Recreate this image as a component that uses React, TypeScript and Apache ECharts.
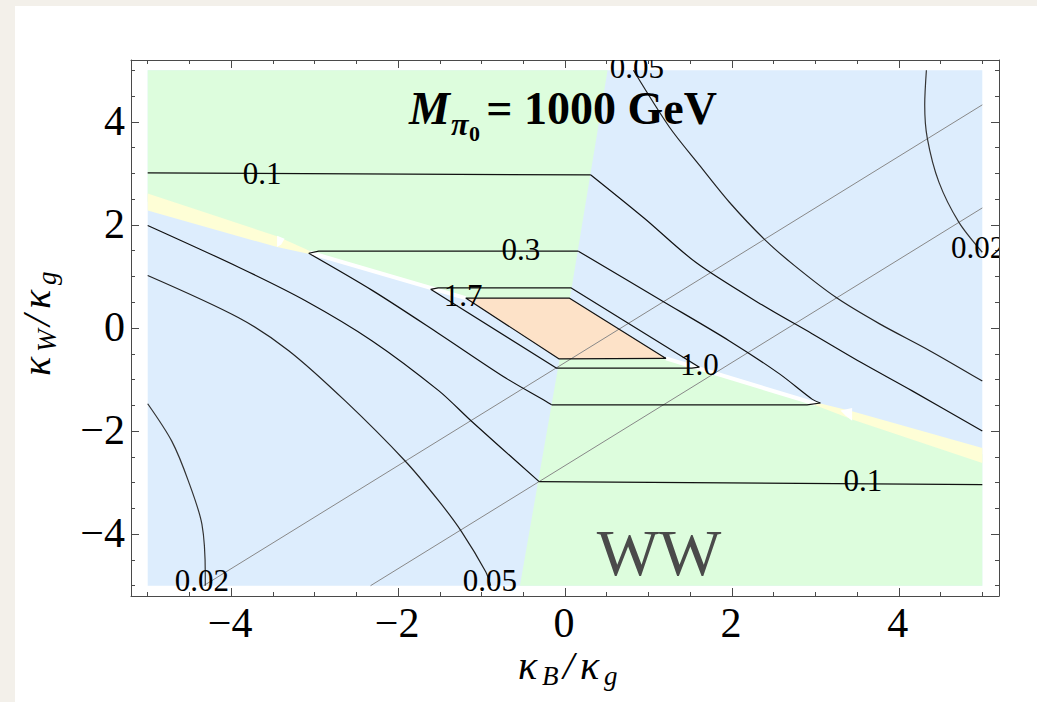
import React, { useEffect, useRef } from "react";
import * as echarts from "echarts";

// ---------- axes ----------
const AXIS_MIN = -5.2;
const AXIS_MAX = 5.2;
const MAJOR_TICKS = [-4, -2, 0, 2, 4];
const MINOR_TICKS = [-5, -4.5, -4, -3.5, -3, -2.5, -2, -1.5, -1, -0.5, 0, 0.5, 1, 1.5, 2, 2.5, 3, 3.5, 4, 4.5, 5];
const TICK_LABELS = ["\u22124", "\u22122", "0", "2", "4"];

// ---------- filled regions (data coords: kB/kg, kW/kg) ----------
const plotRect = [[-5, -5], [5, -5], [5, 5], [-5, 5]];
const greenUpper = [[-5, 5], [0.51, 5], [0, 0], [-5, 2.45]];
const greenLower = [[0, 0], [5, -2.45], [5, -5], [-0.54, -5]];
const yellowLeft = [[-5, 2.61], [-3.45, 1.78], [-3.05, 1.49], [-3.05, 1.43], [-3.45, 1.57], [-5, 2.28]];
const yellowRight = [[3.0, -1.44], [3.45, -1.62], [5, -2.33], [5, -2.62], [3.45, -1.78], [3.0, -1.5]];
const notchLeft = [[-3.45, 1.79], [-3.36, 1.73], [-3.4, 1.62], [-3.45, 1.57]];
const notchRight = [[3.3, -1.6], [3.44, -1.55], [3.44, -1.8], [3.36, -1.7]];
const peachCell = [[-1.19, 0.58], [0.05, 0.58], [1.21, -0.59], [-0.07, -0.6]];

// thin white seam along the diagonal
const seamLeft = [[-3.05, 1.46], [-1.19, 0.58]];
const seamRight = [[1.21, -0.59], [3.0, -1.47]];

// ---------- contour lines ----------
const c01UpperFlat = [[-5, 3.01], [0.31, 2.97]];
const c01UpperBranch = [[0.31, 2.97], [0.95, 2.13], [1.57, 1.27], [2.36, 0.45], [2.96, -0.11], [3.56, -0.68], [4.16, -1.22], [5, -2.0]];
const c01LowerBranch = [[-5, 1.99], [-3.91, 1.18], [-3.11, 0.53], [-2.31, -0.25], [-1.51, -1.22], [-1.12, -1.81], [-0.31, -2.98]];
const c01LowerFlat = [[-0.31, -2.98], [5, -3.04]];
const c005Upper = [[0.82, 5], [1.25, 3.9], [1.61, 3.16], [1.97, 2.44], [2.39, 1.72], [2.75, 1.21], [3.25, 0.59], [3.77, 0.08], [4.37, -0.44], [5, -1.03]];
const c005Lower = [[-5, 1.02], [-3.91, 0.2], [-3.31, -0.44], [-2.63, -1.42], [-1.91, -2.59], [-1.51, -3.36], [-1.24, -3.95], [-0.95, -4.73], [-0.89, -5]];
const c002Upper = [[4.33, 5], [4.31, 4.33], [4.34, 3.69], [4.48, 2.83], [4.72, 2.05], [5, 1.47]];
const c002Lower = [[-5, -1.47], [-4.71, -2.2], [-4.51, -2.98], [-4.35, -3.81], [-4.31, -4.79], [-4.31, -5]];
const c03Top = [[-3.07, 1.45], [-2.95, 1.49], [0.16, 1.49]];
const c03Right = [[0.16, 1.49], [1.16, 0.53], [1.97, -0.25], [2.57, -0.89], [2.96, -1.38], [3.06, -1.455]];
const c03Bottom = [[3.06, -1.455], [2.9, -1.49], [-0.16, -1.49]];
const c03Left = [[-0.16, -1.49], [-0.23, -1.42], [-0.71, -0.97], [-1.51, -0.11], [-2.31, 0.73], [-3.07, 1.45]];
const c10 = [[-1.61, 0.75], [-1.52, 0.78], [0.07, 0.78], [1.61, -0.76], [1.52, -0.78], [-0.1, -0.78], [-1.61, 0.75]];
const c17 = [[-1.19, 0.58], [0.05, 0.58], [1.21, -0.59], [-0.07, -0.6], [-1.19, 0.58]];

// reference lines
const grayA = [[-4.33, -5], [5, 4.33]];
const grayB = [[-2.33, -5], [5, 2.33]];

// contour labels
const labelTexts = ["0.1", "0.3", "1.7", "1.0", "0.1", "0.05", "0.02", "0.02", "0.05"];
const labelPos = [[-3.63, 2.99], [-0.53, 1.52], [-1.22, 0.63], [1.61, -0.71], [3.57, -2.95], [0.86, 5.06], [4.95, 1.56], [-4.35, -4.89], [-0.9, -4.89]];

// ---------- styles ----------
const SERIF = "Liberation Serif";
const FRAME = "#4a4a4a";
const BLUE = "#ddedfd";
const GREEN = "#ddfddd";
const YELLOW = "#fefed6";
const PEACH = "#fde2c8";
const WHITE = "#ffffff";

const regionPolys = [plotRect, greenUpper, greenLower, yellowLeft, yellowRight, notchLeft, notchRight, peachCell];
const regionColors = [BLUE, GREEN, GREEN, YELLOW, YELLOW, WHITE, WHITE, PEACH];

function axisDef(position: string, ticks: number[], len: number, line: boolean) {
  return {
    type: "value",
    position,
    min: AXIS_MIN,
    max: AXIS_MAX,
    axisLine: { show: line, onZero: false, lineStyle: { color: FRAME, width: 1 } },
    axisTick: { show: true, inside: true, length: len, customValues: ticks, lineStyle: { color: FRAME, width: 1 } },
    axisLabel: { show: false },
    splitLine: { show: false },
  };
}

function lineSeries(data: number[][], color: string, width: number, smooth: boolean | number, z: number) {
  return {
    type: "line",
    data,
    symbol: "none",
    smooth,
    silent: true,
    clip: true,
    z,
    lineStyle: { color, width },
    animation: false,
  };
}

function txt(x: number, y: number, text: string, font: string, fill = "#000", align = "left") {
  return {
    type: "text",
    x,
    y,
    z: 20,
    silent: true,
    style: { text, font, fill, align, verticalAlign: "middle", textAlign: align, textVerticalAlign: "middle" },
  };
}

function textEl(x: number, y: number, text: string, font: string, align: string) {
  return {
    type: "text",
    x,
    y,
    style: { text, font, fill: "#000", align, verticalAlign: "middle", textAlign: align, textVerticalAlign: "middle" },
  };
}

function buildOption() {
  const black = "#111111";
  const tickFont = `42px ${SERIF}`;
  const series: any[] = [
    {
      type: "custom",
      coordinateSystem: "cartesian2d",
      clip: true,
      silent: true,
      z: 1,
      data: regionPolys.map((_, i) => [0, 0, i]),
      renderItem: (params: any, api: any) => {
        const i = params.dataIndex;
        const pts = regionPolys[i].map((p) => api.coord(p));
        return { type: "polygon", shape: { points: pts }, style: { fill: regionColors[i], stroke: null } };
      },
    },
    lineSeries(seamLeft, WHITE, 4, false, 2),
    lineSeries(seamRight, WHITE, 4, false, 2),
    lineSeries(grayA, "#888888", 1, false, 3),
    lineSeries(grayB, "#888888", 1, false, 3),
    lineSeries(c01UpperFlat, black, 1.2, false, 4),
    lineSeries(c01UpperBranch, black, 1.2, 0.3, 4),
    lineSeries(c01LowerBranch, black, 1.2, 0.3, 4),
    lineSeries(c01LowerFlat, black, 1.2, false, 4),
    lineSeries(c005Upper, "#222222", 1.2, 0.3, 4),
    lineSeries(c005Lower, "#222222", 1.2, 0.3, 4),
    lineSeries(c002Upper, "#333333", 1.2, 0.3, 4),
    lineSeries(c002Lower, "#333333", 1.2, 0.3, 4),
    lineSeries(c03Top, black, 1.2, false, 4),
    lineSeries(c03Right, black, 1.2, 0.3, 4),
    lineSeries(c03Bottom, black, 1.2, false, 4),
    lineSeries(c03Left, black, 1.2, 0.3, 4),
    lineSeries(c10, black, 1.2, false, 4),
    lineSeries(c17, black, 1.2, false, 4),
    // contour labels
    {
      type: "custom",
      coordinateSystem: "cartesian2d",
      clip: true,
      silent: true,
      z: 6,
      data: labelPos.map((p, i) => [p[0], p[1], i]),
      renderItem: (params: any, api: any) => {
        const pt = api.coord([api.value(0), api.value(1)]);
        return textEl(pt[0], pt[1], labelTexts[params.dataIndex], `31px ${SERIF}`, "center");
      },
    },
    // x tick labels (placed through the x scale)
    {
      type: "custom",
      coordinateSystem: "cartesian2d",
      clip: false,
      silent: true,
      z: 6,
      data: MAJOR_TICKS.map((v, i) => [v, AXIS_MIN, i]),
      renderItem: (params: any, api: any) => {
        const pt = api.coord([api.value(0), api.value(1)]);
        return textEl(pt[0] - 1, pt[1] + 27, TICK_LABELS[params.dataIndex], tickFont, "center");
      },
    },
    // y tick labels (placed through the y scale)
    {
      type: "custom",
      coordinateSystem: "cartesian2d",
      clip: false,
      silent: true,
      z: 6,
      data: MAJOR_TICKS.map((v, i) => [AXIS_MIN, v, i]),
      renderItem: (params: any, api: any) => {
        const pt = api.coord([api.value(0), api.value(1)]);
        return textEl(pt[0] - 6, pt[1] - 1, TICK_LABELS[params.dataIndex], tickFont, "right");
      },
    },
  ];

  const italic = (s: number) => `italic ${s}px ${SERIF}`;
  const graphic: any[] = [
    // title M_{pi_0} = 1000 GeV
    txt(409, 108, "M", `italic bold 46px ${SERIF}`),
    txt(451, 124, "\u03c0", `italic bold 32px ${SERIF}`),
    txt(469, 133, "0", `bold 22px ${SERIF}`),
    txt(717, 108, "= 1000 GeV", `bold 46px ${SERIF}`, "#000", "right"),
    // WW
    txt(659, 552, "WW", `66px ${SERIF}`, "#4a4a4a", "center"),
    // strip outside the right frame (hides label overflow)
    {
      type: "rect",
      z: 19,
      silent: true,
      shape: { x: 1000, y: 61, width: 37, height: 534 },
      style: { fill: "#ffffff" },
    },
    // x axis title
    {
      type: "group",
      x: 518,
      y: 665,
      z: 20,
      children: [
        txt(0, 0, "\u03ba", italic(40)),
        txt(24, 11, "B", italic(27)),
        txt(45, 0, "/", italic(40)),
        txt(62, 0, "\u03ba", italic(40)),
        txt(86, 11, "g", italic(27)),
      ],
    },
    // y axis title (rotated)
    {
      type: "group",
      x: 36,
      y: 376,
      z: 20,
      rotation: Math.PI / 2,
      children: [
        txt(0, 0, "\u03ba", italic(40)),
        txt(24, 11, "W", italic(27)),
        txt(50, 0, "/", italic(40)),
        txt(67, 0, "\u03ba", italic(40)),
        txt(91, 11, "g", italic(27)),
      ],
    },
  ];

  return {
    animation: false,
    backgroundColor: "transparent",
    textStyle: { fontFamily: SERIF },
    grid: { left: 131, top: 60, width: 868, height: 536, containLabel: false },
    xAxis: [
      axisDef("bottom", MAJOR_TICKS, 8, true),
      axisDef("bottom", MINOR_TICKS, 4, false),
      axisDef("top", MAJOR_TICKS, 8, true),
      axisDef("top", MINOR_TICKS, 4, false),
    ],
    yAxis: [
      axisDef("left", MAJOR_TICKS, 8, true),
      axisDef("left", MINOR_TICKS, 4, false),
      axisDef("right", MAJOR_TICKS, 8, true),
      axisDef("right", MINOR_TICKS, 4, false),
    ],
    series,
    graphic,
  };
}

export default function App() {
  const ref = useRef<HTMLDivElement>(null);
  useEffect(() => {
    if (!ref.current) return;
    const chart = echarts.init(ref.current, null, { renderer: "svg" });
    chart.setOption(buildOption() as any);
    return () => chart.dispose();
  }, []);
  return (
    <div style={{ position: "fixed", left: 0, top: 0, width: 1037, height: 702, background: "#f3f0ea", overflow: "hidden" }}>
      <div style={{ position: "absolute", left: 15, top: 6, right: 0, bottom: 0, background: "#ffffff" }} />
      <div ref={ref} style={{ position: "absolute", left: 0, top: 0, width: 1037, height: 702 }} />
    </div>
  );
}
